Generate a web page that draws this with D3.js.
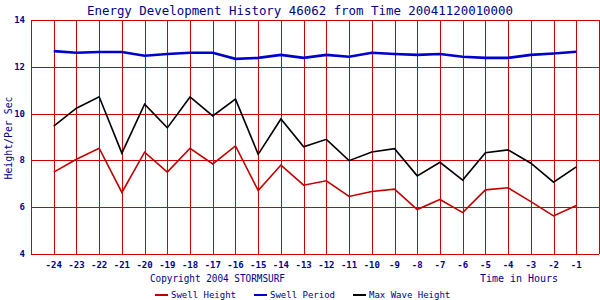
<!DOCTYPE html>
<html>
<head>
<meta charset="utf-8">
<script src="https://cdn.jsdelivr.net/npm/d3@7"></script>
<style>
  body { margin: 0; background: white; }
  text { font-family: "DejaVu Sans Mono", monospace; fill: #00008b; }
</style>
</head>
<body>
<script>
// data
let hours = [-24, -23, -22, -21, -20, -19, -18, -17, -16, -15, -14, -13, -12, -11, -10, -9, -8, -7, -6, -5, -4, -3, -2, -1];
let swellHeight = [7.5, 8.05, 8.52, 6.63, 8.35, 7.5, 8.52, 7.85, 8.62, 6.71, 7.8, 6.94, 7.13, 6.46, 6.67, 6.77, 5.9, 6.33, 5.77, 6.74, 6.83, 6.24, 5.63, 6.07];
let swellPeriod = [12.67, 12.6, 12.63, 12.63, 12.47, 12.55, 12.6, 12.6, 12.34, 12.38, 12.51, 12.38, 12.51, 12.43, 12.6, 12.55, 12.51, 12.55, 12.43, 12.38, 12.38, 12.51, 12.57, 12.64];
let maxWave = [9.46, 10.23, 10.72, 8.31, 10.4, 9.39, 10.71, 9.9, 10.62, 8.26, 9.77, 8.58, 8.9, 7.99, 8.36, 8.5, 7.34, 7.92, 7.16, 8.33, 8.45, 7.88, 7.07, 7.72];
let yTicks = [4, 6, 8, 10, 12, 14];
let gridHours = d3.range(-25, 1);

let w = 600, h = 300;
let svg = d3.select("body").append("svg").attr("width", w).attr("height", h);

let x = d3.scaleLinear().domain([-25, 0]).range([31, 599]);
let y = d3.scaleLinear().domain([4, 14]).range([254, 20]);

// grid
let grid = svg.append("g").attr("shape-rendering", "crispEdges");
grid.selectAll(".v").data(gridHours).enter().append("line")
  .attr("x1", d => Math.round(x(d)) + 0.5).attr("x2", d => Math.round(x(d)) + 0.5)
  .attr("y1", y(14)).attr("y2", y(4))
  .attr("stroke", "#cc0000").attr("stroke-width", 1);
grid.selectAll(".h").data(yTicks).enter().append("line")
  .attr("x1", x(-25)).attr("x2", x(0))
  .attr("y1", d => Math.round(y(d)) + 0.5).attr("y2", d => Math.round(y(d)) + 0.5)
  .attr("stroke", "#cc0000").attr("stroke-width", 1);

// y tick labels
svg.selectAll(".yl").data(yTicks).enter().append("text")
  .attr("x", 25).attr("y", d => y(d) + 3)
  .attr("text-anchor", "end").attr("font-size", 9).attr("font-weight", "bold")
  .text(d => d);

// x tick labels
svg.selectAll(".xl").data(hours).enter().append("text")
  .attr("x", d => x(d)).attr("y", 268)
  .attr("text-anchor", "middle").attr("font-size", 9).attr("font-weight", "bold")
  .text(d => d);

// series
let series = [
  { name: "Swell Height", values: swellHeight, color: "#c00000", width: 1.6 },
  { name: "Swell Period", values: swellPeriod, color: "#0000cc", width: 2.6 },
  { name: "Max Wave Height", values: maxWave, color: "#000000", width: 1.6 }
];
let line = d3.line().x((d, i) => x(hours[i])).y(d => y(d));
series.forEach(s => {
  svg.append("path").datum(s.values)
    .attr("d", line).attr("fill", "none")
    .attr("stroke", s.color).attr("stroke-width", s.width);
});

// titles
svg.append("text").attr("x", 300).attr("y", 15).attr("text-anchor", "middle")
  .attr("font-size", 13).attr("textLength", 426).attr("lengthAdjust", "spacingAndGlyphs")
  .text("Energy Development History 46062 from Time 20041120010000");
svg.append("text").attr("transform", "translate(12,138) rotate(-90)")
  .attr("text-anchor", "middle").attr("font-size", 11)
  .attr("textLength", 83).attr("lengthAdjust", "spacingAndGlyphs")
  .text("Height/Per Sec");
svg.append("text").attr("x", 150).attr("y", 282)
  .attr("font-size", 11).attr("textLength", 135).attr("lengthAdjust", "spacingAndGlyphs")
  .text("Copyright 2004 STORMSURF");
svg.append("text").attr("x", 480).attr("y", 282)
  .attr("font-size", 11).attr("textLength", 78).attr("lengthAdjust", "spacingAndGlyphs")
  .text("Time in Hours");

// legend
let legendX = [155, 254, 353];
series.forEach((s, i) => {
  svg.append("line")
    .attr("x1", legendX[i]).attr("x2", legendX[i] + 13)
    .attr("y1", 295).attr("y2", 295)
    .attr("stroke", s.color).attr("stroke-width", 2);
  svg.append("text").attr("x", legendX[i] + 16).attr("y", 298)
    .attr("font-size", 9)
    .text(s.name);
});
</script>
</body>
</html>
